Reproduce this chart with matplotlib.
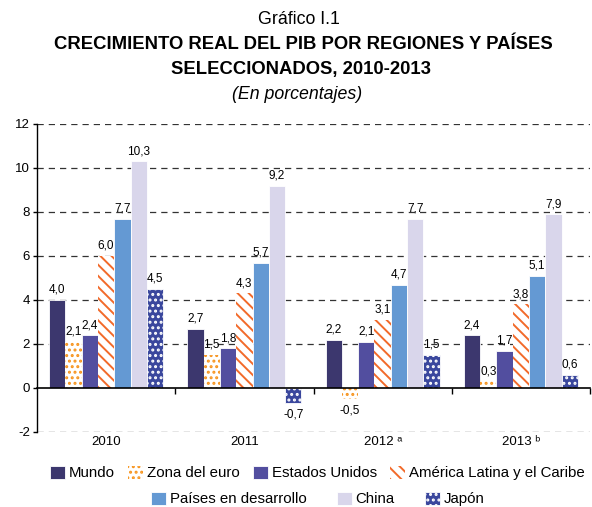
import matplotlib
matplotlib.use("Agg")
import matplotlib.pyplot as plt
import numpy as np
from matplotlib.patches import Patch

plt.rcParams['font.family'] = ['Liberation Sans', 'DejaVu Sans']
plt.rcParams['hatch.linewidth'] = 1.4

years = ["2010", "2011", "2012 ᵃ", "2013 ᵇ"]
series_names = ["Mundo", "Zona del euro", "Estados Unidos", "América Latina y el Caribe",
                "Países en desarrollo", "China", "Japón"]
mundo = [4.0, 2.7, 2.2, 2.4]
zona_euro = [2.1, 1.5, -0.5, 0.3]
estados_unidos = [2.4, 1.8, 2.1, 1.7]
america_latina = [6.0, 4.3, 3.1, 3.8]
paises_desarrollo = [7.7, 5.7, 4.7, 5.1]
china = [10.3, 9.2, 7.7, 7.9]
japon = [4.5, -0.7, 1.5, 0.6]
series = [mundo, zona_euro, estados_unidos, america_latina, paises_desarrollo, china, japon]

styles = [
    dict(facecolor="#3c376e", edgecolor="white", linewidth=0.6, hatch=None),
    dict(facecolor="white", edgecolor="#f7941d", linewidth=0, hatch="..."),
    dict(facecolor="#524e9f", edgecolor="white", linewidth=0.6, hatch=None),
    dict(facecolor="white", edgecolor="#f26a2a", linewidth=0, hatch="\\\\\\"),
    dict(facecolor="#6499d3", edgecolor="white", linewidth=0.6, hatch=None),
    dict(facecolor="#d9d6eb", edgecolor="white", linewidth=0.6, hatch=None),
    dict(facecolor="#3a479d", edgecolor="white", linewidth=0.6, hatch="..."),
]

fig = plt.figure(figsize=(5.92, 5.07), dpi=100)
ax = fig.add_axes([37/592, 1-432/507, (590-37)/592, (432-124)/507])

x = np.arange(len(years))
w = 0.118
for k, (vals, st) in enumerate(zip(series, styles)):
    pos = x + (k - 3) * w
    ax.bar(pos, vals, width=w, zorder=3, **st)
    for px, v in zip(pos, vals):
        lbl = f"{v:.1f}".replace(".", ",")
        if v >= 0:
            ax.annotate(lbl, (px, v), xytext=(0, 3), textcoords="offset points",
                        ha="center", va="bottom", fontsize=8.5, zorder=5)
        else:
            ax.annotate(lbl, (px, v), xytext=(0, -4), textcoords="offset points",
                        ha="center", va="top", fontsize=8.5, zorder=5)

ax.set_xlim(-0.5, 3.5)
ax.set_ylim(-2, 12)
ax.set_yticks(np.arange(-2, 13, 2))
ax.set_yticklabels([str(t) for t in range(-2, 13, 2)], fontsize=9.5)
for yv in range(-2, 13, 2):
    if yv != 0:
        ax.axhline(yv, color="#333333", linestyle=(0, (5, 4)), linewidth=0.9, zorder=1)

ax.spines['top'].set_visible(False)
ax.spines['right'].set_visible(False)
ax.spines['bottom'].set_position(('data', 0))
ax.spines['bottom'].set_linewidth(1.2)
ax.spines['left'].set_linewidth(1.0)
ax.spines['bottom'].set_zorder(4)
ax.set_xticks([0.5, 1.5, 2.5, 3.5])
ax.set_xticklabels([])
ax.tick_params(axis='x', direction='out', length=4, width=1)
ax.tick_params(axis='y', direction='out', length=3, width=1, pad=2)
for i, yr in enumerate(years):
    ax.annotate(yr, (i, -2), xytext=(0, -3), textcoords="offset points",
                ha="center", va="top", fontsize=9.5, annotation_clip=False)

fig.text(0.505, 0.962, "Gráfico I.1", ha="center", va="center", fontsize=12.8)
fig.text(0.512, 0.912, "CRECIMIENTO REAL DEL PIB POR REGIONES Y PAÍSES", ha="center",
         va="center", fontsize=13.3, fontweight="bold")
fig.text(0.508, 0.863, "SELECCIONADOS, 2010-2013", ha="center", va="center",
         fontsize=13.3, fontweight="bold")
fig.text(0.502, 0.813, "(En porcentajes)", ha="center", va="center", fontsize=12.8,
         style="italic")

handles = [Patch(label=n, **{k: v for k, v in st.items()}) for n, st in zip(series_names, styles)]
leg1 = fig.legend(handles=handles[:4], loc="center", bbox_to_anchor=(0.536, 1-473/507),
                  ncol=4, frameon=False, fontsize=10.8, handlelength=1.0, handleheight=1.0,
                  handletextpad=0.25, columnspacing=0.9, borderaxespad=0)
leg2 = fig.legend(handles=handles[4:], loc="center", bbox_to_anchor=(0.537, 1-499/507),
                  ncol=3, frameon=False, fontsize=10.8, handlelength=1.0, handleheight=1.0,
                  handletextpad=0.25, columnspacing=2.0, borderaxespad=0)

fig.savefig("out.png", dpi=100)
